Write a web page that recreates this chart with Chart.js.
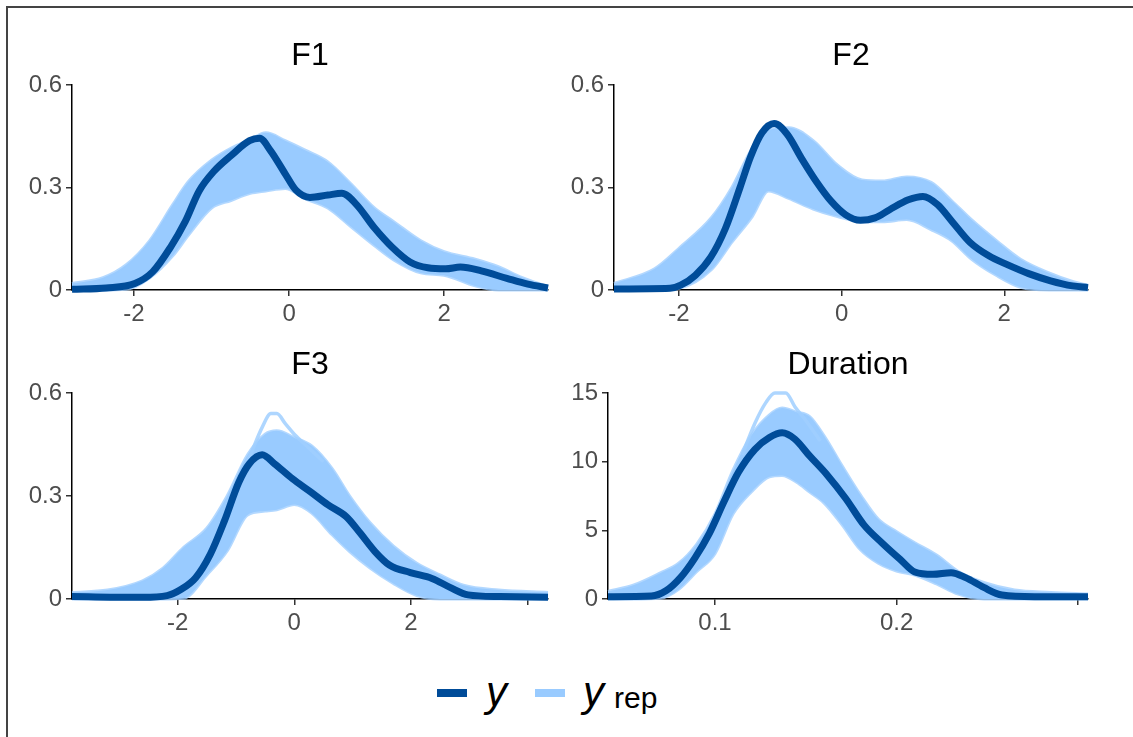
<!DOCTYPE html>
<html>
<head>
<meta charset="utf-8">
<script src="https://cdn.jsdelivr.net/npm/chart.js@4/dist/chart.umd.min.js"></script>
<style>
  html, body { margin: 0; padding: 0; background: #fff; }
  #wrap { position: relative; width: 1133px; height: 737px; overflow: hidden; font-family: "Liberation Sans", Arial, sans-serif; }
  #frame { position: absolute; left: 6px; top: 6px; width: 1140px; height: 800px; border-left: 2px solid #444; border-top: 2px solid #444; }
  .cv { position: absolute; }
  .ttl { position: absolute; font-size: 32px; line-height: 32px; color: #000; text-align: center; width: 300px; }
  .sw { position: absolute; height: 8px; width: 30px; }
  .lg { position: absolute; font-style: italic; font-size: 42px; line-height: 42px; color: #000; }
  .sub { position: absolute; font-size: 30px; line-height: 30px; color: #000; }
</style>
</head>
<body>
<div id="wrap">
  <div id="frame"></div>
  <canvas id="c1" class="cv" style="left:0px;top:0px;width:560px;height:330px" width="560" height="330"></canvas>
  <canvas id="c2" class="cv" style="left:560px;top:0px;width:573px;height:330px" width="573" height="330"></canvas>
  <canvas id="c3" class="cv" style="left:0px;top:330px;width:560px;height:310px" width="560" height="310"></canvas>
  <canvas id="c4" class="cv" style="left:560px;top:330px;width:573px;height:310px" width="573" height="310"></canvas>
  <div class="ttl" style="left:160px;top:38px">F1</div>
  <div class="ttl" style="left:701px;top:38px">F2</div>
  <div class="ttl" style="left:160px;top:347px">F3</div>
  <div class="ttl" style="left:698px;top:347px">Duration</div>
  <div class="sw" style="left:437px;top:689px;background:#004c99"></div>
  <div class="lg" style="left:486px;top:671px">y</div>
  <div class="sw" style="left:535px;top:689px;background:#99cbff"></div>
  <div class="lg" style="left:583px;top:671px">y</div>
  <div class="sub" style="left:614px;top:683px">rep</div>
</div>
<script>
// ---------------- data ----------------
const panelTitles = ["F1", "F2", "F3", "Duration"];

// F1
const f1ObsX = [-2.8, -2.36, -1.99, -1.76, -1.53, -1.34, -1.16, -0.975, -0.745, -0.51, -0.38, -0.24, -0.05, 0.085, 0.27, 0.50, 0.68, 0.87, 1.10, 1.33, 1.56, 1.79, 2.02, 2.21, 2.48, 2.81, 3.08, 3.34];
const f1ObsY = [0.002, 0.006, 0.019, 0.053, 0.125, 0.20, 0.29, 0.346, 0.394, 0.437, 0.444, 0.408, 0.34, 0.293, 0.271, 0.278, 0.283, 0.25, 0.182, 0.125, 0.082, 0.065, 0.062, 0.067, 0.056, 0.034, 0.017, 0.006];
const f1BandX = [-2.8, -2.4, -2.1, -1.8, -1.5, -1.3, -1.0, -0.75, -0.5, -0.3, -0.05, 0.2, 0.5, 0.8, 1.1, 1.35, 1.7, 2.0, 2.4, 2.7, 3.0, 3.34];
const f1RepHi = [0.019, 0.036, 0.074, 0.144, 0.25, 0.317, 0.38, 0.415, 0.44, 0.46, 0.437, 0.41, 0.375, 0.31, 0.24, 0.20, 0.144, 0.112, 0.09, 0.068, 0.037, 0.01];
const f1RepLo = [0, 0, 0.002, 0.035, 0.10, 0.16, 0.24, 0.262, 0.283, 0.29, 0.297, 0.268, 0.24, 0.185, 0.13, 0.088, 0.05, 0.043, 0.012, 0, 0, 0];
const f1ExtraX = [];
const f1ExtraY = [];

// F2
const f2ObsX = [-2.8, -2.11, -1.98, -1.80, -1.61, -1.43, -1.25, -1.12, -0.98, -0.83, -0.67, -0.49, -0.31, -0.13, 0.05, 0.23, 0.41, 0.59, 0.82, 1.00, 1.18, 1.36, 1.58, 1.81, 2.03, 2.30, 2.57, 2.84, 3.03];
const f2ObsY = [0.003, 0.005, 0.014, 0.043, 0.096, 0.18, 0.30, 0.39, 0.46, 0.487, 0.456, 0.384, 0.317, 0.26, 0.22, 0.204, 0.211, 0.235, 0.264, 0.274, 0.25, 0.20, 0.139, 0.10, 0.075, 0.048, 0.027, 0.012, 0.007];
const f2BandX = [-2.8, -2.3, -2.0, -1.6, -1.35, -1.1, -0.9, -0.65, -0.35, -0.05, 0.25, 0.5, 0.8, 1.1, 1.35, 1.6, 1.9, 2.2, 2.55, 2.85, 3.03];
const f2RepHi = [0.019, 0.062, 0.122, 0.212, 0.30, 0.415, 0.468, 0.475, 0.437, 0.365, 0.322, 0.319, 0.331, 0.315, 0.262, 0.205, 0.145, 0.09, 0.05, 0.024, 0.014];
const f2RepLo = [0, 0, 0.005, 0.06, 0.14, 0.215, 0.29, 0.268, 0.237, 0.215, 0.20, 0.20, 0.206, 0.177, 0.145, 0.09, 0.043, 0.008, 0, 0, 0];
const f2ExtraX = [];
const f2ExtraY = [];

// F3
const f3ObsX = [-3.81, -2.6, -2.18, -1.93, -1.69, -1.44, -1.20, -0.95, -0.77, -0.55, -0.34, -0.03, 0.28, 0.58, 0.89, 1.13, 1.38, 1.63, 1.99, 2.36, 2.67, 2.98, 3.53, 4.35];
const f3ObsY = [0.007, 0.005, 0.01, 0.029, 0.062, 0.13, 0.226, 0.34, 0.394, 0.42, 0.394, 0.35, 0.312, 0.274, 0.24, 0.192, 0.139, 0.099, 0.077, 0.06, 0.034, 0.012, 0.007, 0.005];
const f3BandX = [-3.81, -3.2, -2.6, -2.25, -1.9, -1.5, -1.15, -0.8, -0.5, -0.3, 0.0, 0.3, 0.65, 0.95, 1.3, 1.7, 2.1, 2.5, 2.9, 3.5, 4.35];
const f3RepHi = [0.019, 0.026, 0.053, 0.09, 0.15, 0.206, 0.30, 0.42, 0.48, 0.49, 0.47, 0.446, 0.38, 0.30, 0.222, 0.154, 0.104, 0.07, 0.04, 0.026, 0.019];
const f3RepLo = [0, 0, 0, 0, 0.002, 0.07, 0.14, 0.245, 0.256, 0.26, 0.275, 0.25, 0.187, 0.138, 0.09, 0.045, 0.01, 0, 0, 0, 0];
const f3ExtraX = [-1.0, -0.75, -0.55, -0.4, -0.3, -0.15, 0.0, 0.25, 0.5];
const f3ExtraY = [0.32, 0.42, 0.50, 0.54, 0.54, 0.51, 0.48, 0.44, 0.40];

// Duration
const f4ObsX = [0.0411, 0.065, 0.073, 0.081, 0.089, 0.097, 0.105, 0.113, 0.122, 0.130, 0.137, 0.144, 0.152, 0.162, 0.172, 0.182, 0.192, 0.202, 0.210, 0.220, 0.230, 0.238, 0.248, 0.258, 0.276, 0.3054];
const f4ObsY = [0.17, 0.22, 0.6, 1.56, 3.0, 4.8, 7.1, 9.24, 10.9, 11.76, 12.1, 11.64, 10.44, 9.0, 7.32, 5.4, 4.08, 2.88, 1.97, 1.8, 1.92, 1.56, 0.84, 0.29, 0.17, 0.17];
const f4BandX = [0.0411, 0.055, 0.07, 0.08, 0.09, 0.1, 0.11, 0.12, 0.13, 0.137, 0.145, 0.152, 0.16, 0.17, 0.18, 0.19, 0.2, 0.21, 0.222, 0.234, 0.248, 0.265, 0.285, 0.3054];
const f4RepHi = [0.55, 1.0, 1.9, 2.6, 4.0, 6.2, 9.4, 11.9, 13.4, 13.9, 13.6, 13.3, 11.9, 9.7, 7.6, 5.8, 4.9, 4.1, 3.2, 2.0, 1.2, 0.65, 0.48, 0.36];
const f4RepLo = [0, 0, 0.05, 0.7, 2.0, 3.3, 6.2, 7.8, 8.9, 9.0, 8.5, 7.8, 7.0, 5.4, 3.6, 2.6, 2.04, 1.75, 1.1, 0.35, 0, 0, 0, 0];
const f4ExtraX = [0.115, 0.122, 0.128, 0.133, 0.139, 0.144, 0.15, 0.158];
const f4ExtraY = [10.5, 12.8, 14.3, 15.0, 15.0, 14.0, 13.0, 11.5];

// axes
const f1XRange = [-2.8, 3.34];   const f1XTicks = [-2, 0, 2];  const f1XLabels = ["-2", "0", "2"];
const f2XRange = [-2.8, 3.03];   const f2XTicks = [-2, 0, 2];  const f2XLabels = ["-2", "0", "2"];
const f3XRange = [-3.81, 4.35];  const f3XTicks = [-2, 0, 2, 4]; const f3XLabels = ["-2", "0", "2", ""];
const f4XRange = [0.0411, 0.3054]; const f4XTicks = [0.1, 0.2, 0.3]; const f4XLabels = ["0.1", "0.2", ""];
const f1YTicks = [0, 0.3, 0.6]; const f1YLabels = ["0", "0.3", "0.6"];
const f2YTicks = [0, 0.3, 0.6]; const f2YLabels = ["0", "0.3", "0.6"];
const f3YTicks = [0, 0.3, 0.6]; const f3YLabels = ["0", "0.3", "0.6"];
const f4YTicks = [0, 5, 10, 15]; const f4YLabels = ["0", "5", "10", "15"];

// ---------------- drawing ----------------
const DARK = "#004c99";
const LIGHT = "#99cbff";
const LIGHT_EDGE = "rgba(153,203,255,0.75)";

function pts(xs, ys) { return xs.map((x, i) => ({ x: x, y: ys[i] })); }

function makePanel(id, p, layout) {
  const datasets = [
    { data: pts(p.bandX, p.lo), borderColor: LIGHT_EDGE, borderWidth: 3, fill: false, order: 3 },
    { data: pts(p.bandX, p.hi), borderColor: LIGHT_EDGE, borderWidth: 3, fill: "-1", backgroundColor: LIGHT, order: 2 },
    { data: pts(p.exX, p.exY), borderColor: "rgba(160,207,255,0.85)", borderWidth: 3.5, fill: false, order: 1 },
    { data: pts(p.obsX, p.obsY), borderColor: DARK, borderWidth: 7, fill: false, order: 0, borderCapStyle: "butt" }
  ];
  datasets.forEach(d => { d.pointRadius = 0; d.cubicInterpolationMode = "monotone"; d.clip = 6; });
  new Chart(document.getElementById(id), {
    type: "line",
    data: { datasets: datasets },
    options: {
      responsive: false,
      animation: false,
      devicePixelRatio: 1,
      layout: { padding: { left: 0, right: layout.right, top: layout.top, bottom: 0 } },
      plugins: { legend: { display: false }, tooltip: { enabled: false }, title: { display: false } },
      scales: {
        x: {
          type: "linear", min: p.xr[0], max: p.xr[1],
          afterBuildTicks: s => { s.ticks = p.xt.map(v => ({ value: v })); },
          afterFit: s => { s.height = layout.xh; },
          ticks: { autoSkip: false, maxRotation: 0, padding: 4, color: "#4d4d4d",
                   font: { family: "Liberation Sans", size: 24 },
                   callback: (v, i) => p.xl[i] },
          grid: { display: true, drawOnChartArea: false, drawTicks: true, tickLength: 6, color: "#333", lineWidth: 1.5 },
          border: { display: true, color: "#000", width: 1.5 }
        },
        y: {
          type: "linear", min: p.yt[0], max: p.yt[p.yt.length - 1],
          afterBuildTicks: s => { s.ticks = p.yt.map(v => ({ value: v })); },
          afterFit: s => { s.width = layout.yw; },
          ticks: { autoSkip: false, padding: 4, color: "#4d4d4d",
                   font: { family: "Liberation Sans", size: 24 },
                   callback: (v, i) => p.yl[i] },
          grid: { display: true, drawOnChartArea: false, drawTicks: true, tickLength: 6, color: "#333", lineWidth: 1.5 },
          border: { display: true, color: "#000", width: 1.5 }
        }
      }
    }
  });
}

makePanel("c1", { obsX: f1ObsX, obsY: f1ObsY, bandX: f1BandX, hi: f1RepHi, lo: f1RepLo, exX: f1ExtraX, exY: f1ExtraY,
  xr: f1XRange, xt: f1XTicks, xl: f1XLabels, yt: f1YTicks, yl: f1YLabels }, { right: 12, top: 85, xh: 40, yw: 72 });
makePanel("c2", { obsX: f2ObsX, obsY: f2ObsY, bandX: f2BandX, hi: f2RepHi, lo: f2RepLo, exX: f2ExtraX, exY: f2ExtraY,
  xr: f2XRange, xt: f2XTicks, xl: f2XLabels, yt: f2YTicks, yl: f2YLabels }, { right: 45, top: 85, xh: 40, yw: 54 });
makePanel("c3", { obsX: f3ObsX, obsY: f3ObsY, bandX: f3BandX, hi: f3RepHi, lo: f3RepLo, exX: f3ExtraX, exY: f3ExtraY,
  xr: f3XRange, xt: f3XTicks, xl: f3XLabels, yt: f3YTicks, yl: f3YLabels }, { right: 12, top: 63, xh: 41, yw: 72 });
makePanel("c4", { obsX: f4ObsX, obsY: f4ObsY, bandX: f4BandX, hi: f4RepHi, lo: f4RepLo, exX: f4ExtraX, exY: f4ExtraY,
  xr: f4XRange, xt: f4XTicks, xl: f4XLabels, yt: f4YTicks, yl: f4YLabels }, { right: 45, top: 63, xh: 41, yw: 48 });
</script>
</body>
</html>
